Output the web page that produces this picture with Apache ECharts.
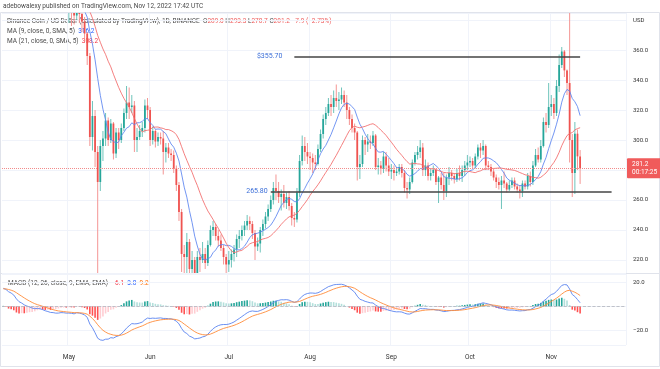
<!DOCTYPE html>
<html><head><meta charset="utf-8">
<script src="https://cdn.jsdelivr.net/npm/echarts@6/dist/echarts.min.js"></script>
<style>html,body{margin:0;padding:0;background:#fff}#c{width:660px;height:369px}</style>
</head><body><div id="c"></div>
<script>
// ---- data ----
const firstDay = '2022-04-06';
const lastAxisDay = '2022-11-29';
const monthLabels = {'05':'May','06':'Jun','07':'Jul','08':'Aug','09':'Sep','10':'Oct','11':'Nov'};
// closes before the visible window (Feb 20 - Apr 5), used only to warm up the indicators
const preCloses = [375,365,372,362,360,368,373,362,388,
 393,390,383,372,378,371,368,372,385,374,368,370,362,368,372,385,391,398,402,395,392,398,405,412,410,418,425,425,430,435,428,
 442,448,452,448,440];
// visible daily candles Apr 6 - Nov 12
const opens = [
 440,430,435,422,428,420,398,400,410,402,405,406,400,404,410,406,398,393,394,390,395,390,394,398,392,
 388,391,387,383,398,384,379,371,356,302,316,292,272,296,301,313,300,311,291,305,300,308,318,325,322,323,300,302,306,308,323,
 320,300,306,299,302,301,292,295,291,290,281,270,252,224,222,232,214,220,208,222,220,224,218,230,240,242,236,233,228,222,
 217,220,224,227,234,236,240,243,246,244,238,229,231,240,244,249,254,260,268,266,262,264,258,262,256,248,247,265,286,296,292,
 289,288,285,284,294,304,314,318,324,322,328,326,327,330,325,320,314,308,305,282,284,300,297,299,298,303,282,283,281,289,283,
 279,280,278,279,282,278,268,267,272,285,290,292,295,280,283,276,278,280,272,275,270,266,275,278,276,274,278,276,280,283,
 285,286,283,289,295,293,296,283,282,279,275,272,270,273,271,267,270,273,269,267,266,271,269,276,272,283,290,287,296,312,310,
 322,324,318,336,350,359,346.4,338,300,278,304.2,289.0];
const closes = [
 430,435,422,428,420,398,400,410,402,405,406,400,404,410,406,398,393,394,390,395,390,394,398,392,388,
 391,387,383,398,384,379,371,356,302,316,292,272,296,301,313,300,311,291,305,300,308,318,325,322,323,300,302,306,308,323,320,
 300,306,299,302,301,292,295,291,290,281,270,252,224,222,232,214,220,208,222,220,224,218,230,240,242,236,233,228,222,217,
 220,224,227,234,236,240,243,246,244,238,229,231,240,244,249,254,260,268,266,262,264,258,262,256,248,247,265,286,296,292,289,
 288,285,284,294,304,314,318,324,322,328,326,327,330,325,320,314,308,305,282,284,300,297,299,298,303,282,283,281,289,283,279,
 280,278,279,282,278,268,267,272,285,290,292,295,280,283,276,278,280,272,275,270,266,275,278,276,274,278,276,280,283,285,
 286,283,289,295,293,296,283,282,279,275,272,270,273,271,267,270,273,269,267,266,271,269,276,272,283,290,287,296,312,310,322,
 324,318,336,350,359,346.4,338,300,278,304.2,289.1,281.2];
const highs = [
 442,438,440,430,432,421,406,414,412,408,409,408,406,414,415,414,401,397,396,398,398,397,402,400,395,
 395,394,390,403,405,388,382,372,358,326,320,296,300,306,318,315,314,312,308,308,311,321,336,335,330,326,308,310,312,327,328,
 322,309,307,305,305,306,298,298,294,293,283,272,254,230,238,234,226,222,226,228,232,228,233,243,246,244,240,237,230,224,
 226,227,230,237,240,243,246,250,249,246,240,235,242,247,252,257,263,272,277,272,267,270,265,266,258,252,268,290,303,302,298,
 292,291,290,297,307,317,322,328,330,333,337,332,335,333,330,322,317,311,306,290,303,302,304,303,306,304,288,286,292,292,288,
 284,283,282,284,284,280,272,275,287,292,296,300,298,287,285,281,283,281,276,278,278,277,282,280,278,281,283,283,286,290,
 289,288,291,297,298,300,297,286,284,281,277,275,276,279,272,273,275,275,271,270,273,273,278,279,286,294,295,300,315,318,338,
 330,328,340,357,362,360,347,398,304,312,307,293.3];
const lows = [
 425,426,420,420,418,396,394,397,400,400,402,398,392,402,404,396,390,390,388,386,386,387,390,388,385,
 378,376,377,380,378,372,366,350,296,293,282,211,266,286,296,296,298,287,288,294,298,306,314,314,318,292,292,300,302,305,314,
 296,297,295,296,297,277,285,288,286,278,266,246,212,208,204,210,211,184,200,212,218,214,216,229,236,233,229,226,217,210,
 212,215,219,222,228,233,236,240,240,234,220,226,225,236,241,246,252,257,260,258,253,255,254,253,243,242,245,262,283,286,284,
 280,278,280,283,292,301,310,316,316,318,322,320,324,322,314,310,305,300,273,274,282,290,292,294,296,280,277,277,278,279,276,
 274,273,276,277,275,265,261,264,271,283,287,288,276,276,273,273,276,270,258,267,260,262,270,273,271,272,273,272,276,280,
 282,281,281,287,288,290,280,280,276,273,268,267,254,268,265,266,268,267,265,261,262,267,267,269,270,282,285,285,295,305,308,
 316,314,316,332,348,342,330,285,262,264,280,270.7];
// horizontal levels drawn by the author
const levelValues = [355.70, 265.80];
const levelTexts = ['$355.70', '265.80'];
const levelFrom = ['2022-07-26', '2022-07-17'];
const levelTo = ['2022-11-12', '2022-11-24'];

// ---- derived ----
const dates = [];
for (let t = Date.parse(firstDay + 'T00:00:00Z'); t <= Date.parse(lastAxisDay + 'T00:00:00Z'); t += 86400000) {
  dates.push(new Date(t).toISOString().slice(0, 10));
}
const allCloses = preCloses.concat(closes);
function ema(arr, n) { const k = 2 / (n + 1); const out = []; let p = arr[0]; arr.forEach((v, i) => { p = i === 0 ? v : v * k + p * (1 - k); out.push(p); }); return out; }
function sma(arr, n) { return arr.map((v, i) => i < n - 1 ? null : arr.slice(i - n + 1, i + 1).reduce((a, b) => a + b, 0) / n); }
const off = preCloses.length;
const e12 = ema(allCloses, 12), e26 = ema(allCloses, 26);
const macdAll = e12.map((v, i) => v - e26[i]);
const sigAll = ema(macdAll, 9);
const macd = macdAll.slice(off), signal = sigAll.slice(off);
const hist = macd.map((v, i) => v - signal[i]);
const ma9 = sma(allCloses, 9).slice(off), ma21 = sma(allCloses, 21).slice(off);
const N = closes.length - 1;
const minus = v => (v < 0 ? '\u2212' : '') + Math.abs(v).toFixed(1);

const UP = '#26a69a', DOWN = '#ef5350';
const UPW = '#5fbdb3', DOWNW = '#f38a88';
const candleData = closes.map((c, i) => [i, opens[i], c, lows[i], highs[i]]);
const histData = hist.map((v, i) => {
  const p = i > 0 ? hist[i - 1] : v; let c;
  if (v >= 0) c = v >= p ? '#26a69a' : '#b2dfdb'; else c = v < p ? '#ff5252' : '#ffcdd2';
  return { value: v, itemStyle: { color: c } };
});
const FONT = 'Roboto, "Noto Sans", sans-serif';
const isMonthStart = (i, v) => v.slice(8) === '01';

function renderCandle(params, api) {
  const i = api.value(0), o = api.value(1), c = api.value(2), l = api.value(3), h = api.value(4);
  const pO = api.coord([i, o]), pC = api.coord([i, c]), pL = api.coord([i, l]), pH = api.coord([i, h]);
  const w = api.size([1, 0])[0] * 0.68;
  const up = c >= o;
  const x = pO[0];
  const cs = params.coordSys;
  const top = cs.y, bot = cs.y + cs.height;
  const cl = v => Math.max(top, Math.min(bot, v));
  const children = [];
  const wy1 = cl(pH[1]), wy2 = cl(pL[1]);
  if (wy2 > wy1) children.push({ type: 'line', shape: { x1: x, y1: wy1, x2: x, y2: wy2 }, style: { stroke: up ? UPW : DOWNW, lineWidth: 0.9 } });
  const b1 = Math.min(pO[1], pC[1]), b2 = Math.max(pO[1], pC[1]);
  if (b2 > top && b1 < bot) {
    const y1 = cl(b1), y2 = cl(b2);
    children.push({ type: 'rect', shape: { x: x - w / 2, y: y1, width: w, height: Math.max(0.8, y2 - y1) }, style: { fill: up ? UP : DOWN } });
  }
  return { type: 'group', children };
}

function boxLabel(val, bg, text) {
  return {
    yAxis: val,
    lineStyle: { opacity: 0 },
    label: { show: true, position: 'end', distance: 1, formatter: text, backgroundColor: bg, color: '#fff',
      fontSize: 6.5, fontFamily: FONT, padding: [2, 5, 1, 5], borderRadius: 1, lineHeight: 8 }
  };
}

const levelLines = levelValues.map((v, k) => [
  { coord: [levelFrom[k], v], label: { show: true, position: 'start', formatter: levelTexts[k], color: '#3c6fd8',
      fontSize: 7, fontFamily: FONT, distance: k === 0 ? 12 : 3 } },
  { coord: [levelTo[k], v] }
]);

const chg = closes[N] - closes[N - 1];
const pct = chg / closes[N - 1] * 100;
const sgn = v => (v < 0 ? '\u2212' : '');

const option = {
  animation: false,
  backgroundColor: '#fff',
  textStyle: { fontFamily: FONT },
  grid: [
    { left: 2, right: 34, top: 13, height: 260 },
    { left: 2, right: 34, top: 274, height: 71 }
  ],
  xAxis: [
    { type: 'category', gridIndex: 0, data: dates, axisLine: { show: false }, axisTick: { show: false },
      axisLabel: { show: false }, splitLine: { show: true, interval: isMonthStart, lineStyle: { color: '#f0f3fa', width: 1 } } },
    { type: 'category', gridIndex: 1, data: dates, axisLine: { show: false }, axisTick: { show: false },
      axisLabel: { interval: isMonthStart, formatter: v => monthLabels[v.slice(5, 7)] || '', fontSize: 6.5, color: '#333', margin: 9 },
      splitLine: { show: true, interval: isMonthStart, lineStyle: { color: '#f0f3fa', width: 1 } } }
  ],
  yAxis: [
    { type: 'value', gridIndex: 0, position: 'right', min: 211.33, max: 384.67, splitNumber: 9, minInterval: 20, maxInterval: 20,
      axisLine: { show: false }, axisTick: { show: false },
      axisLabel: { showMinLabel: false, showMaxLabel: false, formatter: v => (v >= 380 ? '' : v.toFixed(1)), fontSize: 6, color: '#333', margin: 7, align: 'left' },
      splitLine: { lineStyle: { color: '#f0f3fa' } } },
    { type: 'value', gridIndex: 1, position: 'right', min: -32.68, max: 27.36, splitNumber: 3, minInterval: 20, maxInterval: 20,
      axisLine: { show: false }, axisTick: { show: false },
      axisLabel: { showMinLabel: false, showMaxLabel: false, formatter: v => (v === 0 ? '' : minus(v)), fontSize: 6, color: '#333', margin: 7, align: 'left' },
      splitLine: { lineStyle: { color: '#f0f3fa' } } }
  ],
  series: [
    { type: 'custom', xAxisIndex: 0, yAxisIndex: 0, data: candleData, renderItem: renderCandle,
      encode: { x: 0, y: [1, 2, 3, 4] }, z: 3 },
    { type: 'line', xAxisIndex: 0, yAxisIndex: 0, data: ma9, showSymbol: false, clip: true, z: 4,
      lineStyle: { color: '#5b84f0', width: 1, opacity: 0.85 },
      markLine: { symbol: 'none', silent: true, data: [boxLabel(ma9[N], '#2962ff', ma9[N].toFixed(1))] } },
    { type: 'line', xAxisIndex: 0, yAxisIndex: 0, data: ma21, showSymbol: false, clip: true, z: 4,
      lineStyle: { color: '#f26a6a', width: 1, opacity: 0.85 },
      markLine: { symbol: 'none', silent: true, data: [boxLabel(ma21[N], '#f23645', ma21[N].toFixed(1))] } },
    { type: 'line', xAxisIndex: 0, yAxisIndex: 0, data: [], z: 5,
      markLine: { symbol: 'none', silent: true, animation: false,
        lineStyle: { color: '#444', width: 1.6, type: 'solid' },
        data: levelLines.concat([
          { yAxis: closes[N], lineStyle: { color: '#f28b8b', width: 1, type: 'dotted' },
            label: { show: true, position: 'end', distance: 1, formatter: closes[N].toFixed(1) + '\n00:17:25', backgroundColor: '#f05b5b',
              color: '#fff', fontSize: 6.5, fontFamily: FONT, padding: [2, 5, 2, 5], lineHeight: 8, borderRadius: 1 } }
        ]) } },
    { type: 'bar', xAxisIndex: 1, yAxisIndex: 1, data: histData, barWidth: 1.6,
      markLine: { symbol: 'none', silent: true, data: [
        { yAxis: 0, lineStyle: { color: '#b2b5be', type: 'dashed', width: 0.8 }, label: { show: false } },
        boxLabel(hist[N], '#f23645', minus(hist[N])) ] } },
    { type: 'line', xAxisIndex: 1, yAxisIndex: 1, data: macd, showSymbol: false,
      lineStyle: { color: '#5b84f0', width: 1, opacity: 0.9 },
      markLine: { symbol: 'none', silent: true, data: [boxLabel(macd[N], '#2962ff', minus(macd[N]))] } },
    { type: 'line', xAxisIndex: 1, yAxisIndex: 1, data: signal, showSymbol: false,
      lineStyle: { color: '#ff8c3a', width: 1, opacity: 0.9 },
      markLine: { symbol: 'none', silent: true, data: [boxLabel(signal[N], '#ff6d00', minus(signal[N]))] } }
  ],
  graphic: [
    { type: 'rect', silent: true, shape: { x: 0.5, y: 12.5, width: 659, height: 354 }, style: { fill: 'none', stroke: '#e0e3eb', lineWidth: 1 } },
    { type: 'line', silent: true, shape: { x1: 0.5, y1: 273.5, x2: 659.5, y2: 273.5 }, style: { stroke: '#e0e3eb', lineWidth: 1 } },
    { type: 'text', silent: true, x: 3, y: 6, style: { text: 'adebowalexy published on TradingView.com, Nov 12, 2022 17:42 UTC',
        fill: '#4a4a4a', fontSize: 6.5, fontFamily: FONT, verticalAlign: 'middle' } },
    { type: 'text', silent: true, x: 7, y: 21, style: {
        text: '{g|Binance Coin / US Dollar (calculated by TradingView), 1D, BINANCE  O}{r|' + opens[N].toFixed(1) + '}{g| H}{r|' + highs[N].toFixed(1) +
          '}{g| L}{r|' + lows[N].toFixed(1) + '}{g| C}{r|' + closes[N].toFixed(1) + ' ' + minus(chg) + ' (' + sgn(pct) + Math.abs(pct).toFixed(2) + '%)}',
        rich: { g: { fill: '#4a4a4a', fontSize: 6.5, fontFamily: FONT }, r: { fill: '#ef5b5b', fontSize: 6.5, fontFamily: FONT } },
        verticalAlign: 'middle' } },
    { type: 'text', silent: true, x: 7, y: 31, style: {
        text: '{g|MA (9, close, 0, SMA, 5)  }{b|' + ma9[N].toFixed(1) + '}',
        rich: { g: { fill: '#4a4a4a', fontSize: 6.5, fontFamily: FONT }, b: { fill: '#2962ff', fontSize: 6.5, fontFamily: FONT } },
        verticalAlign: 'middle' } },
    { type: 'text', silent: true, x: 7, y: 41, style: {
        text: '{g|MA (21, close, 0, SMA, 5)  }{r|' + ma21[N].toFixed(1) + '}',
        rich: { g: { fill: '#4a4a4a', fontSize: 6.5, fontFamily: FONT }, r: { fill: '#f23645', fontSize: 6.5, fontFamily: FONT } },
        verticalAlign: 'middle' } },
    { type: 'text', silent: true, x: 8, y: 283, style: {
        text: '{g|MACD (12, 26, close, 9, EMA, EMA)  }{r|' + minus(hist[N]) + '}{g|  }{b|' + minus(macd[N]) + '}{g|  }{o|' + minus(signal[N]) + '}',
        rich: { g: { fill: '#4a4a4a', fontSize: 6.5, fontFamily: FONT }, r: { fill: '#f23645', fontSize: 6.5, fontFamily: FONT },
          b: { fill: '#2962ff', fontSize: 6.5, fontFamily: FONT }, o: { fill: '#ff6d00', fontSize: 6.5, fontFamily: FONT } },
        verticalAlign: 'middle' } },
    { type: 'text', silent: true, x: 633, y: 20, style: { text: 'USD', fill: '#333', fontSize: 6, fontFamily: FONT, verticalAlign: 'middle' } }
  ]
};
const chart = echarts.init(document.getElementById('c'));
chart.setOption(option);
</script>
</body></html>
